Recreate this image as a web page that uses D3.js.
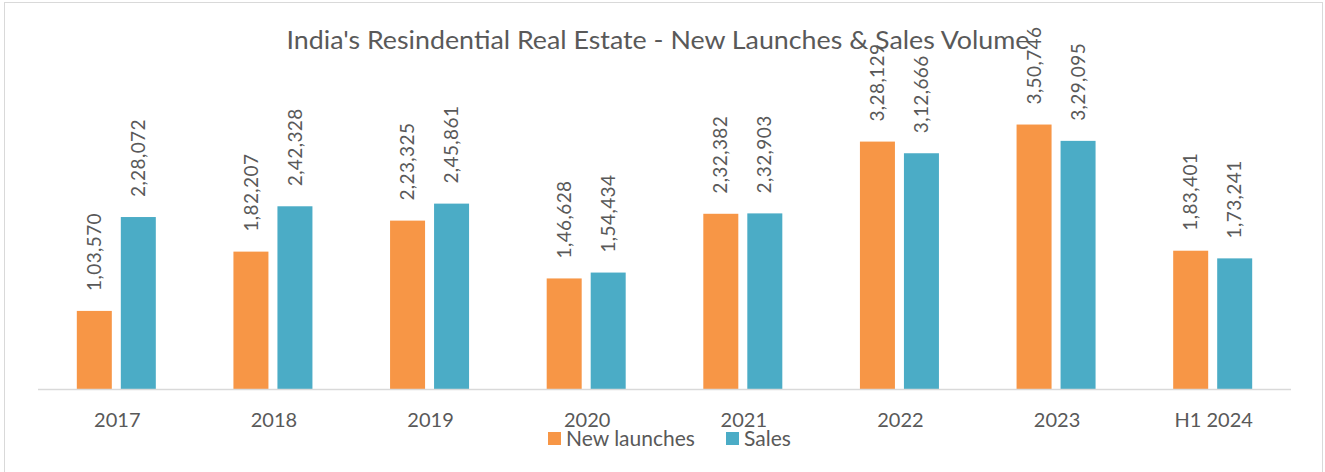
<!DOCTYPE html>
<html>
<head>
<meta charset="utf-8">
<script src="https://cdn.jsdelivr.net/npm/d3@7"></script>
<style>
  html, body { margin: 0; padding: 0; background: #fff; }
  text { font-family: Lato, "Open Sans", sans-serif; fill: #595959; }
</style>
</head>
<body>
<div id="chart"></div>
<script>
// Données
const categories = ["2017", "2018", "2019", "2020", "2021", "2022", "2023", "H1 2024"];
const seriesNames = ["New launches", "Sales"];
const newLaunches = [103570, 182207, 223325, 146628, 232382, 328129, 350746, 183401];
const sales = [228072, 242328, 245861, 154434, 232903, 312666, 329095, 173241];
const seriesValues = [newLaunches, sales];
const colors = ["#F79646", "#4BACC6"];

const width = 1325, height = 472;
const titleText = "India's Resindential Real Estate - New Launches & Sales Volume";

// Format indien : 1,03,570
const fmtIN = v => {
  const s = String(v);
  if (s.length <= 3) return s;
  const last3 = s.slice(-3);
  const rest = s.slice(0, -3).replace(/\B(?=(\d{2})+(?!\d))/g, ",");
  return rest + "," + last3;
};

const svg = d3.select("#chart").append("svg")
  .attr("width", width)
  .attr("height", height);

// Cadre
svg.append("rect")
  .attr("x", 4.5).attr("y", 2.5)
  .attr("width", 1318).attr("height", 475)
  .attr("fill", "#fff")
  .attr("stroke", "#d9d9d9");

// Échelles
const x0 = d3.scaleBand()
  .domain(categories)
  .range([38, 1291]);

const bw = x0.bandwidth();
const x1 = d3.scaleBand()
  .domain(seriesNames)
  .range([bw / 2 - 39.5, bw / 2 + 39.5])
  .paddingInner(9 / 44);

const y = d3.scaleLinear()
  .domain([0, 400000])
  .range([389, 87.4]);

// Barres
const groups = svg.append("g")
  .selectAll("g")
  .data(categories)
  .join("g")
  .attr("transform", d => `translate(${x0(d)},0)`);

groups.selectAll("rect")
  .data((d, i) => seriesNames.map((s, j) => ({ s, j, v: seriesValues[j][i] })))
  .join("rect")
  .attr("x", d => x1(d.s))
  .attr("y", d => y(d.v))
  .attr("width", x1.bandwidth())
  .attr("height", d => y(0) - y(d.v))
  .attr("fill", d => colors[d.j]);

// Étiquettes de données (verticales)
groups.selectAll("text.lbl")
  .data((d, i) => seriesNames.map((s, j) => ({ s, j, v: seriesValues[j][i] })))
  .join("text")
  .attr("class", "lbl")
  .attr("transform", d => `translate(${x1(d.s) + x1.bandwidth() / 2},${y(d.v) - 20}) rotate(-90)`)
  .attr("dy", "0.35em")
  .style("font-size", "19px")
  .style("letter-spacing", "0.4px")
  .text(d => fmtIN(d.v));

// Axe X
svg.append("line")
  .attr("x1", 38).attr("x2", 1291)
  .attr("y1", 389.5).attr("y2", 389.5)
  .attr("stroke", "#d9d9d9")
  .attr("stroke-width", 1.5);

svg.append("g")
  .selectAll("text")
  .data(categories)
  .join("text")
  .attr("x", d => x0(d) + bw / 2 + 1)
  .attr("y", 427)
  .attr("text-anchor", "middle")
  .style("font-size", "20px")
  .text(d => d);

// Titre
svg.append("text")
  .attr("x", 658)
  .attr("y", 49)
  .attr("text-anchor", "middle")
  .style("font-size", "25px")
  .attr("textLength", 743)
  .attr("lengthAdjust", "spacingAndGlyphs")
  .text(titleText);

// Légende
const legend = svg.append("g");
const legX = [548, 726];
seriesNames.forEach((s, j) => {
  legend.append("rect")
    .attr("x", legX[j]).attr("y", 432)
    .attr("width", 13).attr("height", 13)
    .attr("fill", colors[j]);
  legend.append("text")
    .attr("x", legX[j] + 18)
    .attr("y", 446)
    .style("font-size", "21px")
    .text(s);
});
</script>
</body>
</html>
